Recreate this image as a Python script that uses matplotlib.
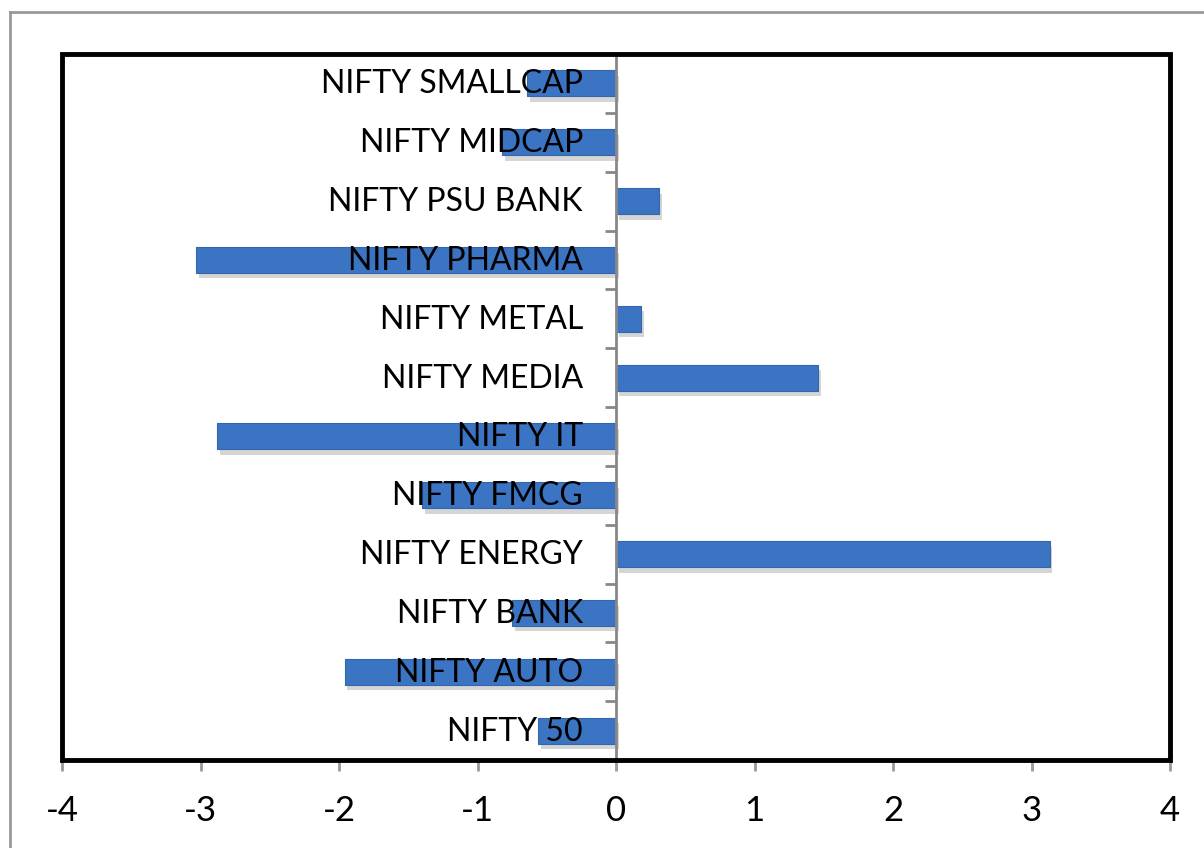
import matplotlib.pyplot as plt
import matplotlib.patheffects as pe
from matplotlib.patches import Rectangle
from matplotlib.lines import Line2D
import matplotlib.transforms as mtransforms

indices = ["NIFTY 50", "NIFTY AUTO", "NIFTY BANK", "NIFTY ENERGY", "NIFTY FMCG",
           "NIFTY IT", "NIFTY MEDIA", "NIFTY METAL", "NIFTY PHARMA",
           "NIFTY PSU BANK", "NIFTY MIDCAP", "NIFTY SMALLCAP"]
change = [-0.56, -1.96, -0.75, 3.13, -1.40, -2.88, 1.46, 0.18, -3.03,
          0.31, -0.82, -0.64]
xticks = [-4, -3, -2, -1, 0, 1, 2, 3, 4]

plt.rcParams['font.family'] = ['Lato', 'DejaVu Sans']

fig = plt.figure(figsize=(12.04, 8.48), dpi=100)
ax = fig.add_axes([62/1204, 1-760/848, (1170-62)/1204, (760-54)/848])

ypos = list(range(len(indices)))
bars = ax.barh(ypos, change, height=0.44, color='#3b74c2', edgecolor='#3366aa',
               linewidth=0.8, zorder=3)
for b in bars:
    b.set_path_effects([pe.SimplePatchShadow(offset=(2, -4), shadow_rgbFace='#888888', alpha=0.35),
                        pe.Normal()])

ax.set_xlim(-4, 4)
ax.set_ylim(-0.5, len(indices) - 0.5)

# zero axis with category boundary ticks
ax.spines['left'].set_position(('data', 0))
ax.spines['left'].set_color('#888888')
ax.spines['left'].set_linewidth(2)
ax.spines['left'].set_zorder(4)
ax.set_yticks([i + 0.5 for i in range(len(indices))])
ax.set_yticklabels([])
ax.tick_params(axis='y', direction='out', length=8, width=2, color='#888888')

ax.spines['right'].set_visible(False)
ax.spines['top'].set_visible(False)
ax.spines['bottom'].set_color('#999999')
ax.spines['bottom'].set_linewidth(1.5)

ax.set_xticks(xticks)
ax.set_xticklabels([str(t) for t in xticks], fontsize=25)
ax.tick_params(axis='x', direction='out', length=8, width=2, color='#999999', pad=17)

# category labels right-aligned next to the zero axis
off = mtransforms.offset_copy(ax.transData, fig=fig, x=-33, y=-1, units='dots')
for y, name in zip(ypos, indices):
    ax.text(0, y, name, transform=off, ha='right', va='center', fontsize=23,
            color='black', zorder=5)

# black plot-area frame
ax.add_patch(Rectangle((0, 0), 1, 1, transform=ax.transAxes, fill=False,
                       edgecolor='black', linewidth=3.5, zorder=6, clip_on=False))

# outer chart border
fig.add_artist(Line2D([10/1204, 10/1204], [0, 1-12/848], color='#999999', linewidth=2))
fig.add_artist(Line2D([10/1204, 1], [1-12/848, 1-12/848], color='#999999', linewidth=2))

fig.savefig('out.png', dpi=100)
